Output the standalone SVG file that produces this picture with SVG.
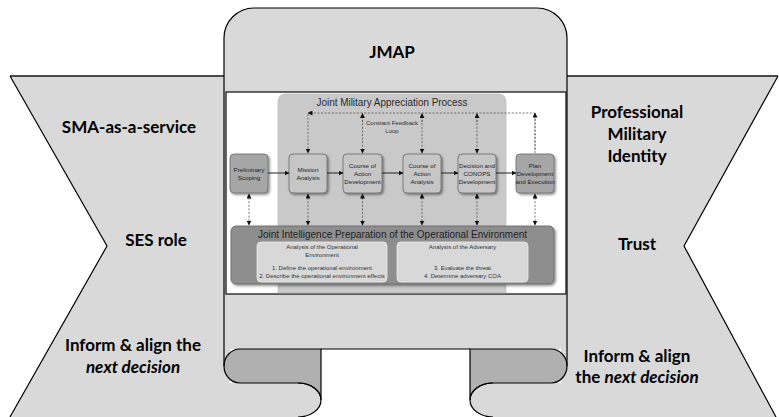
<svg xmlns="http://www.w3.org/2000/svg" width="779" height="417" viewBox="0 0 779 417">
<style>
.big{font-family:Lato,"Liberation Sans",sans-serif;font-weight:bold;font-size:17px;fill:#000;text-anchor:middle}
.it{font-style:italic}
.edge{fill:none;stroke:#000;stroke-width:1.2}
.topl{fill:none;stroke:#4a4a4a;stroke-width:1.8}
.bx{stroke:#6a6a6a;stroke-width:0.8}
.bt{font-family:"Liberation Sans",sans-serif;font-size:6.2px;fill:#222;text-anchor:middle}
.st{font-family:"Liberation Sans",sans-serif;font-size:6px;fill:#333;text-anchor:middle}
.dot{fill:none;stroke:#555;stroke-width:0.8;stroke-dasharray:2 1.6}
.sol{fill:none;stroke:#222;stroke-width:1}
</style>
<defs>
<marker id="ah" viewBox="0 0 10 10" refX="9" refY="5" markerWidth="5" markerHeight="5" markerUnits="userSpaceOnUse" orient="auto-start-reverse"><path d="M0,0 L10,5 L0,10 Z" fill="#111"/></marker>
<filter id="sh" x="-20%" y="-20%" width="150%" height="150%"><feDropShadow dx="1.5" dy="1.5" stdDeviation="1" flood-color="#000" flood-opacity="0.45"/></filter>
</defs>

<g id="left-panel">
<path d="M10,76 L230,76 L230,417 L10,417 L107,246 Z" fill="#d9d9d9"/>
<path class="topl" d="M10,76 L224,76"/>
<path class="edge" d="M10,76 L107,246 L10,417"/>
<text class="big" x="129" y="133">SMA-as-a-service</text>
<text class="big" x="156" y="246">SES role</text>
<text class="big" x="133" y="351">Inform &amp; align the</text>
<text class="big it" x="133" y="373">next decision</text>
</g>

<g id="right-panel">
<path d="M561,76 L778,76 L684,246 L776,417 L561,417 Z" fill="#d9d9d9"/>
<path class="topl" d="M567,76 L778,76"/>
<path class="edge" d="M778,76 L684,246 L776,417"/>
<text class="big" x="637" y="118">Professional</text>
<text class="big" x="637" y="140">Military</text>
<text class="big" x="637" y="162">Identity</text>
<text class="big" x="637" y="250">Trust</text>
<text class="big" x="637" y="362">Inform &amp; align</text>
<text class="big" x="637" y="383">the <tspan class="it">next decision</tspan></text>
</g>

<g id="scroll">
<path d="M321,349 L470,349 L470,417 L321,417 Z" fill="#fff"/>
<path d="M224,349 L224,38 A30,30 0 0 1 254,8 L537,8 A30,30 0 0 1 567,38 L567,349 Z" fill="#d9d9d9"/>
<g id="curl-left">
<path d="M224,383 L298,383 A23,17 0 0 1 298,417 L224,417 Z" fill="#d9d9d9"/>
<path d="M240,349 L321,349 L321,400 A23,17 0 0 0 298,383 L240,383 A16,17 0 0 1 240,349 Z" fill="#b0b0b0" stroke="#000" stroke-width="1.2"/>
<path class="edge" d="M298,383 A23,17 0 0 1 298,417"/>
</g>
<g id="curl-right" transform="translate(791,0) scale(-1,1)">
<path d="M224,383 L298,383 A23,17 0 0 1 298,417 L224,417 Z" fill="#d9d9d9"/>
<path d="M240,349 L321,349 L321,400 A23,17 0 0 0 298,383 L240,383 A16,17 0 0 1 240,349 Z" fill="#b0b0b0" stroke="#000" stroke-width="1.2"/>
<path class="edge" d="M298,383 A23,17 0 0 1 298,417"/>
</g>
<path class="edge" d="M224,366 L224,38 A30,30 0 0 1 254,8 L537,8 A30,30 0 0 1 567,38 L567,366"/>
<path class="edge" d="M321,349 L470,349"/>
<text class="big" x="392" y="58">JMAP</text>
</g>

<g id="jmap-figure">
<rect x="226" y="92" width="340" height="202" fill="#fff" stroke="#1a1a1a" stroke-width="1.3"/>
<path d="M278,293 L278,102 Q278,94 286,94 L498,94 Q506,94 506,102 L506,293 Z" fill="#c9c9c9" stroke="#b5b5b5" stroke-width="0.6"/>
<text x="392" y="106" font-family="Liberation Sans, sans-serif" font-size="11px" fill="#2a2a2a" text-anchor="middle" textLength="151" lengthAdjust="spacingAndGlyphs">Joint Military Appreciation Process</text>
<text class="st" x="392" y="125">Constant Feedback</text>
<text class="st" x="392" y="133">Loop</text>
</g>

<g id="node-prelim"><rect class="bx" x="230" y="154" width="38" height="39" rx="4" fill="#a6a6a6" filter="url(#sh)"/><text class="bt" x="249" y="172">Preliminary</text><text class="bt" x="249" y="180">Scoping</text></g>
<g id="node-mission"><rect class="bx" x="289" y="154" width="38" height="39" rx="4" fill="#c6c6c6" filter="url(#sh)"/><text class="bt" x="308" y="172">Mission</text><text class="bt" x="308" y="180">Analysis</text></g>
<g id="node-coadev"><rect class="bx" x="343" y="154" width="39" height="39" rx="4" fill="#c6c6c6" filter="url(#sh)"/><text class="bt" x="362.5" y="168">Course of</text><text class="bt" x="362.5" y="176">Action</text><text class="bt" x="362.5" y="184">Development</text></g>
<g id="node-coaana"><rect class="bx" x="403" y="154" width="38" height="39" rx="4" fill="#c6c6c6" filter="url(#sh)"/><text class="bt" x="422" y="168">Course of</text><text class="bt" x="422" y="176">Action</text><text class="bt" x="422" y="184">Analysis</text></g>
<g id="node-decision"><rect class="bx" x="458" y="154" width="38" height="39" rx="4" fill="#c6c6c6" filter="url(#sh)"/><text class="bt" x="477" y="168">Decision and</text><text class="bt" x="477" y="176">CONOPS</text><text class="bt" x="477" y="184">Development</text></g>
<g id="node-plan"><rect class="bx" x="516" y="154" width="38" height="39" rx="4" fill="#a6a6a6" filter="url(#sh)"/><text class="bt" x="535" y="168">Plan</text><text class="bt" x="535" y="176">Development</text><text class="bt" x="535" y="184">and Execution</text></g>

<g id="node-jipoe">
<rect x="231" y="226" width="323" height="58" rx="5" fill="#8e8e8e" stroke="#666" stroke-width="0.8" filter="url(#sh)"/>
<text x="392.5" y="238" font-family="Liberation Sans, sans-serif" font-size="11.5px" fill="#1e1e1e" text-anchor="middle" textLength="269" lengthAdjust="spacingAndGlyphs">Joint Intelligence Preparation of the Operational Environment</text>
<rect x="257" y="242" width="130" height="40" rx="4" fill="#d8d8d8" stroke="#eee" stroke-width="0.8"/>
<rect x="397" y="242" width="131" height="40" rx="4" fill="#d8d8d8" stroke="#eee" stroke-width="0.8"/>
<text class="st" x="322" y="249">Analysis of the Operational</text>
<text class="st" x="322" y="257">Environment</text>
<text class="st" x="322" y="270">1. Define the operational environment</text>
<text class="st" x="322" y="278">2. Describe the operational environment effects</text>
<text class="st" x="462.5" y="249">Analysis of the Adversary</text>
<text class="st" x="462.5" y="270">3. Evaluate the threat</text>
<text class="st" x="462.5" y="278">4. Determine adversary COA</text>
</g>

<g id="connectors">
<path class="sol" d="M268,173 L289,173" marker-end="url(#ah)"/>
<path class="sol" d="M327,173 L343,173" marker-end="url(#ah)"/>
<path class="sol" d="M382,173 L403,173" marker-end="url(#ah)"/>
<path class="sol" d="M441,173 L458,173" marker-end="url(#ah)"/>
<path class="sol" d="M496,173 L516,173" marker-end="url(#ah)"/>
<path class="dot" d="M535,153 L535,113 L308,113" marker-end="url(#ah)"/>
<path class="dot" d="M535,150 L535,113" marker-end="url(#ah)"/>
<path class="dot" d="M308,114 L308,153" marker-end="url(#ah)"/>
<path class="dot" d="M362.5,116 L362.5,153" marker-end="url(#ah)"/>
<path class="dot" d="M422,116 L422,153" marker-end="url(#ah)"/>
<path class="dot" d="M477,116 L477,153" marker-end="url(#ah)"/>
<path class="dot" d="M362.5,122 L362.5,113.5" marker-end="url(#ah)"/>
<path class="dot" d="M422,122 L422,113.5" marker-end="url(#ah)"/>
<path class="dot" d="M477,122 L477,113.5" marker-end="url(#ah)"/>
<path class="dot" d="M249,194 L249,225" marker-start="url(#ah)" marker-end="url(#ah)"/>
<path class="dot" d="M308,194 L308,225" marker-start="url(#ah)" marker-end="url(#ah)"/>
<path class="dot" d="M362.5,194 L362.5,225" marker-start="url(#ah)" marker-end="url(#ah)"/>
<path class="dot" d="M422,194 L422,225" marker-start="url(#ah)" marker-end="url(#ah)"/>
<path class="dot" d="M477,194 L477,225" marker-start="url(#ah)" marker-end="url(#ah)"/>
<path class="dot" d="M535,194 L535,225" marker-start="url(#ah)" marker-end="url(#ah)"/>
</g>
</svg>
